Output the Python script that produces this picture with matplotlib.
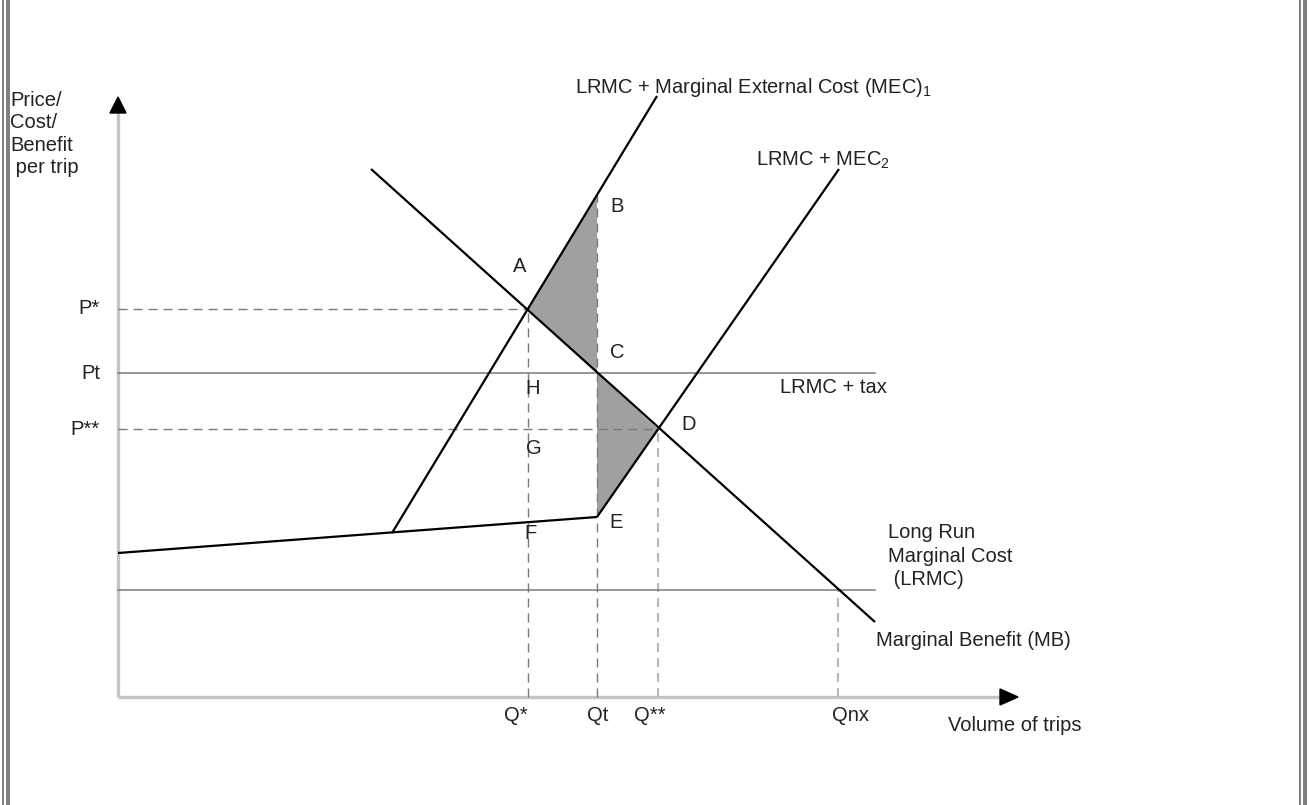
import matplotlib
matplotlib.use("Agg")
import matplotlib.pyplot as plt
from matplotlib.patches import Rectangle

plt.rcParams['font.family'] = ['Liberation Sans', 'DejaVu Sans']
plt.rcParams['mathtext.fontset'] = 'custom'
plt.rcParams['mathtext.rm'] = 'Liberation Sans'
plt.rcParams['mathtext.it'] = 'Liberation Sans'
plt.rcParams['lines.scale_dashes'] = False

# ── Diagram values (quantity on x, price/cost on y) ──
q_values = [410, 479, 540, 720]
q_labels = ['Q*', 'Qt', 'Q**', 'Qnx']
p_values = [388, 324, 268]
p_labels = ['P*', 'Pt', 'P**']
lrmc_level = 107

mb_q = [253, 757]              # marginal benefit
mb_p = [528, 75]
mec1_q = [274, 539]            # LRMC + MEC1
mec1_p = [164, 601]
base_q = [0, 479]              # congestion cost kink
base_p = [144, 180]
mec2_q = [479, 721]            # LRMC + MEC2
mec2_p = [180, 528]

point_names = ['A', 'B', 'C', 'D', 'E']
point_q = [410, 479, 479, 540, 479]
point_p = [388, 502, 324, 268, 180]

fig = plt.figure(figsize=(13.09, 8.05), dpi=100)
ax = fig.add_axes([118 / 1309, 108 / 805, 900 / 1309, 600 / 805])
ax.set_xlim(0, 900)
ax.set_ylim(0, 600)
ax.axis('off')

FS = 14.5
TXT = '#222222'
pt = dict(zip(point_names, zip(point_q, point_p)))

# ── Axes with arrowheads ──
axis_grey = '#c4c4c4'
ax.plot([0, 0], [0, 584], color=axis_grey, lw=2.4, solid_capstyle='butt', zorder=1, clip_on=False)
ax.plot([0, 882], [0, 0], color=axis_grey, lw=2.4, solid_capstyle='butt', zorder=1, clip_on=False)
ax.fill([-8, 8, 0], [584, 584, 600], color='black', zorder=3, clip_on=False)
ax.fill([882, 882, 900], [-8, 8, 0], color='black', zorder=3, clip_on=False)

# ── Shaded welfare areas ──
shade = '#a0a0a0'
ax.fill([pt['A'][0], pt['B'][0], pt['C'][0]], [pt['A'][1], pt['B'][1], pt['C'][1]],
        color=shade, lw=0, zorder=1)
ax.fill([pt['C'][0], pt['D'][0], pt['E'][0]], [pt['C'][1], pt['D'][1], pt['E'][1]],
        color=shade, lw=0, zorder=1)

# ── Dashed guide lines ──
dash_dark = dict(color='#7a7a7a', lw=1.0, dashes=(6.5, 4.3), zorder=2, clip_on=False)
dash_light = dict(color='#b8b8b8', lw=1.5, dashes=(6.5, 4.3), zorder=2, clip_on=False)
ax.plot([0, pt['A'][0]], [p_values[0], p_values[0]], **dash_dark)
ax.plot([0, pt['D'][0]], [p_values[2], p_values[2]], **dash_dark)
ax.plot([q_values[0], q_values[0]], [0, pt['A'][1]], **dash_dark)
ax.plot([q_values[1], q_values[1]], [0, pt['B'][1]], **dash_dark)
ax.plot([q_values[2], q_values[2]], [0, pt['D'][1]], **dash_light)
ax.plot([q_values[3], q_values[3]], [0, lrmc_level], **dash_light)

# ── Horizontal cost lines ──
ax.plot([0, 757], [p_values[1], p_values[1]], color='#7a7a7a', lw=1.1, zorder=2, clip_on=False)
ax.plot([0, 757], [lrmc_level, lrmc_level], color='#7a7a7a', lw=1.1, zorder=2, clip_on=False)

# ── Curves ──
curve = dict(color='black', lw=1.6, zorder=3, solid_capstyle='butt', clip_on=False)
ax.plot(mb_q, mb_p, **curve)
ax.plot(mec1_q, mec1_p, **curve)
ax.plot(base_q, base_p, **curve)
ax.plot(mec2_q, mec2_p, **curve)

# ── Point letters ──
letters = ['A', 'B', 'C', 'D', 'E', 'F', 'G', 'H']
letter_xy = [(402, 430), (499, 490), (499, 345), (571, 273), (498, 175),
             (412, 164), (416, 249), (415, 309)]
for s, (x, y) in zip(letters, letter_xy):
    ax.text(x, y, s, fontsize=FS, color=TXT, ha='center', va='center', zorder=4)

# ── Axis tick labels ──
for v, s in zip(p_values, p_labels):
    ax.text(-18, v, s, fontsize=FS, color=TXT, ha='right', va='center', clip_on=False)
q_label_x = [398, 480, 532, 732]
for x, s in zip(q_label_x, q_labels):
    ax.text(x, -18, s, fontsize=FS, color=TXT, ha='center', va='center', clip_on=False)

# ── Curve and axis titles ──
ax.text(-108, 563, 'Price/\nCost/\nBenefit\n per trip', fontsize=FS, color=TXT,
        ha='left', va='center', linespacing=1.24, clip_on=False)
ax.text(457, 604, r'LRMC + Marginal External Cost (MEC)$_1$', fontsize=FS, color=TXT,
        ha='left', va='baseline', clip_on=False)
ax.text(638, 531, r'LRMC + MEC$_2$', fontsize=FS, color=TXT, ha='left', va='baseline')
ax.text(662, 310, 'LRMC + tax', fontsize=FS, color=TXT, ha='left', va='center')
ax.text(770, 141, 'Long Run\nMarginal Cost\n (LRMC)', fontsize=FS, color=TXT,
        ha='left', va='center', linespacing=1.31)
ax.text(758, 57, 'Marginal Benefit (MB)', fontsize=FS, color=TXT, ha='left', va='center')
ax.text(830, -28, 'Volume of trips', fontsize=FS, color=TXT, ha='left', va='center',
        clip_on=False)

# ── Double frame on left and right edges ──
W = 1309
for x0, w in [(2, 1.5), (6, 4), (1299, 2), (1303, 4)]:
    fig.add_artist(Rectangle((x0 / W, 0), w / W, 1, transform=fig.transFigure,
                             color='#808080', lw=0))

fig.savefig('out.png', dpi=100, facecolor='white')
